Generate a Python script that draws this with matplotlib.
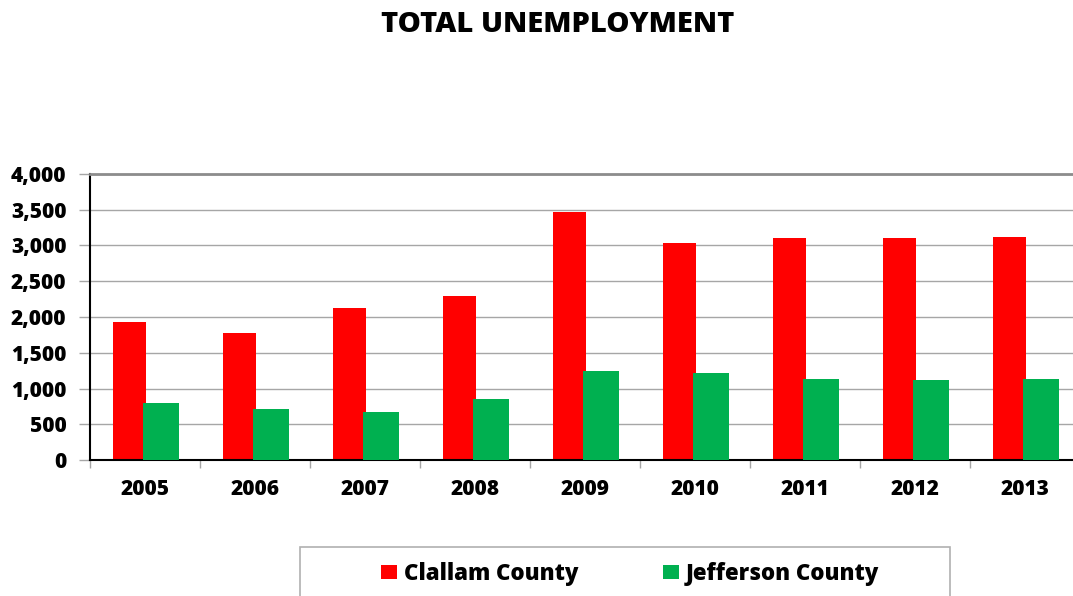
import matplotlib
matplotlib.use("Agg")
import matplotlib.pyplot as plt
from matplotlib.patches import Rectangle, Patch
from matplotlib.ticker import FuncFormatter, FixedLocator

plt.rcParams["font.family"] = ["Open Sans", "DejaVu Sans"]
plt.rcParams["font.weight"] = "heavy"

# ── Data ──────────────────────────────────────────────────────────────────────
years = ["2005", "2006", "2007", "2008", "2009", "2010", "2011", "2012", "2013"]
clallam = [1930, 1770, 2120, 2290, 3470, 3040, 3110, 3100, 3125]
jefferson = [795, 718, 668, 848, 1245, 1213, 1130, 1122, 1130]
y_ticks = [0, 500, 1000, 1500, 2000, 2500, 3000, 3500, 4000]

RED = "#FF0000"
GREEN = "#00B050"
WEIGHT = "heavy"

W, H = 1073, 596
fig = plt.figure(figsize=(W / 100, H / 100), dpi=100)
ax = fig.add_axes([90 / W, 136 / H, 990 / W, 286 / H])

x = list(range(len(years)))
ax.bar([i - 0.145 for i in x], clallam, width=0.30, color=RED, zorder=2)
ax.bar([i + 0.145 for i in x], jefferson, width=0.32, color=GREEN, zorder=3)

ax.set_xlim(-0.5, len(years) - 0.5)
ax.set_ylim(0, 4000)

# ── Axes styling ──────────────────────────────────────────────────────────────
ax.set_yticks(y_ticks)
ax.yaxis.set_major_formatter(FuncFormatter(lambda v, _: f"{int(v):,}"))
ax.yaxis.grid(True, color="#a6a6a6", linewidth=1.0, zorder=0)
ax.set_axisbelow(True)
ax.tick_params(axis="y", direction="out", length=8, width=1, color="#a6a6a6",
               pad=9, labelsize=15)

ax.set_xticks(x)
ax.set_xticklabels(years)
ax.xaxis.set_minor_locator(FixedLocator([i - 0.5 for i in range(len(years) + 1)]))
ax.tick_params(axis="x", which="major", length=0, pad=14, labelsize=15)
ax.tick_params(axis="x", which="minor", direction="out", length=6, width=1,
               color="#a6a6a6")

for lbl in ax.get_xticklabels() + ax.get_yticklabels():
    lbl.set_fontweight(WEIGHT)

ax.spines["left"].set_color("black")
ax.spines["left"].set_linewidth(1.5)
ax.spines["bottom"].set_color("black")
ax.spines["bottom"].set_linewidth(1.5)
ax.spines["top"].set_color("#8c8c8c")
ax.spines["top"].set_linewidth(2.0)
ax.spines["right"].set_visible(False)

# ── Title ─────────────────────────────────────────────────────────────────────
fig.text(558 / W, 1 - 25 / H, "TOTAL UNEMPLOYMENT", ha="center", va="center",
         fontsize=21, fontweight=WEIGHT)

# ── Legend ────────────────────────────────────────────────────────────────────
fig.patches.append(Rectangle((300 / W, -10 / H), 650 / W, (H - 547 + 10) / H,
                             transform=fig.transFigure, facecolor="white",
                             edgecolor="#b0b0b0", linewidth=1.2))
handles = [Patch(facecolor=RED, label="Clallam County"),
           Patch(facecolor=GREEN, label="Jefferson County")]
fig.legend(handles=handles, loc="center", bbox_to_anchor=(630 / W, 1 - 574 / H),
           ncol=2, frameon=False, prop={"size": 16, "weight": WEIGHT},
           handlelength=0.72, handleheight=0.63, handletextpad=0.3,
           columnspacing=3.8)

fig.savefig("out.png", dpi=100)
